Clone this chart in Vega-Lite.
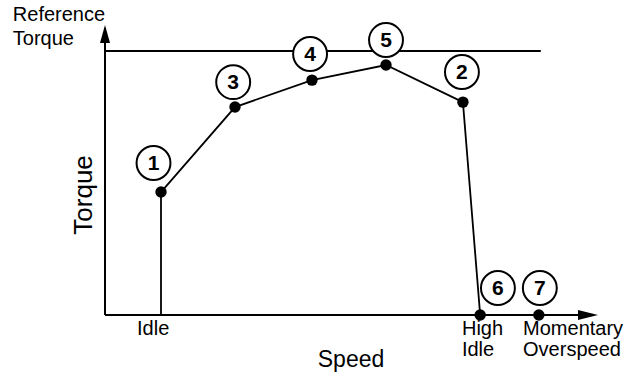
{
  "$schema": "https://vega.github.io/schema/vega-lite/v6.json",
  "width": 493,
  "height": 290,
  "autosize": {"type": "none"},
  "padding": {"left": 105, "top": 25, "right": 42, "bottom": 64},
  "background": "white",
  "config": {"view": {"stroke": null}, "font": "Liberation Sans"},
  "datasets": {
    "rules": [
      {"x": 0, "y": 0, "x2": 99, "y2": 0},
      {"x": 0, "y": 0, "x2": 0, "y2": 99},
      {"x": 0, "y": 91, "x2": 88.4, "y2": 91}
    ],
    "curve": [
      {"o": 0, "x": 11.36, "y": 0},
      {"o": 1, "x": 11.36, "y": 42.4},
      {"o": 2, "x": 26.37, "y": 71.7},
      {"o": 3, "x": 41.99, "y": 81.0},
      {"o": 4, "x": 57.0, "y": 86.2},
      {"o": 5, "x": 72.6, "y": 73.4},
      {"o": 6, "x": 76.1, "y": 0}
    ],
    "dots": [
      {"x": 11.36, "y": 42.4},
      {"x": 26.37, "y": 71.7},
      {"x": 41.99, "y": 81.0},
      {"x": 57.0, "y": 86.2},
      {"x": 72.6, "y": 73.4},
      {"x": 76.1, "y": 0},
      {"x": 88.0, "y": 0}
    ],
    "arrows": [
      {"x": 0, "y": 100, "shape": "M0,0 L-0.5,1.8 L0.5,1.8 Z"},
      {"x": 100, "y": 0, "shape": "M0,0 L-2,-0.5 L-2,0.5 Z"}
    ],
    "labels": [
      {"n": "1", "x": 9.84, "y": 52.4},
      {"n": "3", "x": 26.0, "y": 80.3},
      {"n": "4", "x": 41.6, "y": 90.0},
      {"n": "5", "x": 57.0, "y": 94.8},
      {"n": "2", "x": 72.4, "y": 83.8},
      {"n": "6", "x": 79.7, "y": 9.3},
      {"n": "7", "x": 88.2, "y": 9.3}
    ],
    "reftext": [
      {"t": "Reference\nTorque", "x": -18.7, "y": 101.3}
    ],
    "lefttext": [
      {"t": "Idle", "x": 6.5, "y": -6.9},
      {"t": "High\nIdle", "x": 72.4, "y": -6.9},
      {"t": "Momentary\nOverspeed", "x": 84.8, "y": -6.9}
    ],
    "speed": [{"t": "Speed", "x": 49.9, "y": -17.9}],
    "torque": [{"t": "Torque", "x": -2.64, "y": 41.4}]
  },
  "layer": [
    {
      "data": {"name": "rules"},
      "mark": {"type": "rule", "color": "black", "strokeWidth": 2},
      "encoding": {
        "x": {"field": "x", "type": "quantitative", "scale": {"domain": [0, 100], "nice": false, "zero": false}, "axis": null},
        "y": {"field": "y", "type": "quantitative", "scale": {"domain": [0, 100], "nice": false, "zero": false}, "axis": null},
        "x2": {"field": "x2"},
        "y2": {"field": "y2"}
      }
    },
    {
      "data": {"name": "curve"},
      "mark": {"type": "line", "color": "black", "strokeWidth": 1.8},
      "encoding": {
        "x": {"field": "x", "type": "quantitative"},
        "y": {"field": "y", "type": "quantitative"},
        "order": {"field": "o"}
      }
    },
    {
      "data": {"name": "dots"},
      "mark": {"type": "point", "shape": "circle", "filled": true, "color": "black", "opacity": 1, "size": 130},
      "encoding": {
        "x": {"field": "x", "type": "quantitative"},
        "y": {"field": "y", "type": "quantitative"}
      }
    },
    {
      "data": {"name": "arrows"},
      "mark": {"type": "point", "filled": true, "color": "black", "opacity": 1, "size": 400},
      "encoding": {
        "x": {"field": "x", "type": "quantitative"},
        "y": {"field": "y", "type": "quantitative"},
        "shape": {"field": "shape", "type": "nominal", "scale": null}
      }
    },
    {
      "data": {"name": "labels"},
      "mark": {"type": "point", "shape": "circle", "fill": "white", "fillOpacity": 1, "stroke": "black", "strokeWidth": 2, "opacity": 1, "size": 1150},
      "encoding": {
        "x": {"field": "x", "type": "quantitative"},
        "y": {"field": "y", "type": "quantitative"}
      }
    },
    {
      "data": {"name": "labels"},
      "mark": {"type": "text", "font": "Liberation Sans", "fontWeight": "bold", "fontSize": 21, "align": "center", "baseline": "middle", "dy": 1, "color": "black"},
      "encoding": {
        "x": {"field": "x", "type": "quantitative"},
        "y": {"field": "y", "type": "quantitative"},
        "text": {"field": "n"}
      }
    },
    {
      "data": {"name": "reftext"},
      "mark": {"type": "text", "font": "Liberation Sans", "fontSize": 20, "align": "left", "baseline": "alphabetic", "lineBreak": "\n", "lineHeight": 23.5, "color": "black"},
      "encoding": {
        "x": {"field": "x", "type": "quantitative"},
        "y": {"field": "y", "type": "quantitative"},
        "text": {"field": "t"}
      }
    },
    {
      "data": {"name": "lefttext"},
      "mark": {"type": "text", "font": "Liberation Sans", "fontSize": 20, "align": "left", "baseline": "alphabetic", "lineBreak": "\n", "lineHeight": 21, "color": "black"},
      "encoding": {
        "x": {"field": "x", "type": "quantitative"},
        "y": {"field": "y", "type": "quantitative"},
        "text": {"field": "t"}
      }
    },
    {
      "data": {"name": "speed"},
      "mark": {"type": "text", "font": "Liberation Sans", "fontSize": 23, "align": "center", "baseline": "alphabetic", "color": "black"},
      "encoding": {
        "x": {"field": "x", "type": "quantitative"},
        "y": {"field": "y", "type": "quantitative"},
        "text": {"field": "t"}
      }
    },
    {
      "data": {"name": "torque"},
      "mark": {"type": "text", "font": "Liberation Sans", "fontSize": 26, "align": "center", "baseline": "alphabetic", "angle": 270, "color": "black"},
      "encoding": {
        "x": {"field": "x", "type": "quantitative"},
        "y": {"field": "y", "type": "quantitative"},
        "text": {"field": "t"}
      }
    }
  ]
}
